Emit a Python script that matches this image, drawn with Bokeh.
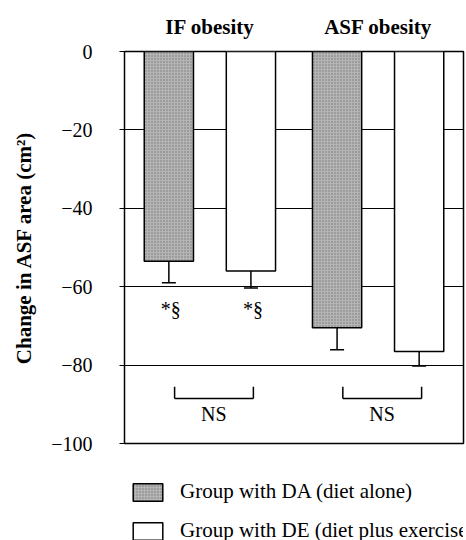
from bokeh.plotting import figure
from bokeh.layouts import column
from bokeh.models import (ColumnDataSource, FactorRange, Range1d, FixedTicker, Whisker, TeeHead,
                          Legend, LegendItem)
from bokeh.core.properties import value
from bokeh.embed import file_html
from bokeh.resources import INLINE

# ---- data ----
groups = ["IF obesity", "ASF obesity"]
treatments = ["DA", "DE"]
da_mean = [-53.5, -70.5]
da_sd = [5.5, 5.6]
de_mean = [-56.0, -76.5]
de_sd = [4.3, 3.7]
sig_group = "IF obesity"
sig_label = "*§"
sig_y = -65.6
ns_label = "NS"
ns_y = -92.5
bracket_top, bracket_bottom = -85.5, -88.5
yticks = [0, -20, -40, -60, -80, -100]
legend_labels = ["Group with DA (diet alone)", "Group with DE (diet plus exercise)"]

SERIF = "Liberation Serif"
DA_STYLE = dict(fill_color="#b5b5b5", line_color="black", line_width=1.5,
                hatch_pattern=".", hatch_color="#4a4a4a", hatch_scale=3, hatch_alpha=0.6)
DE_STYLE = dict(fill_color="white", line_color="black", line_width=1.5)

factors = [(g, t) for g in groups for t in treatments]
x_range = FactorRange(*factors, factor_padding=0.0, group_padding=0.05, range_padding=0.02)

p = figure(width=466, height=455, x_range=x_range, y_range=Range1d(-100, 0),
           x_axis_location="above", output_backend="svg", toolbar_location=None,
           min_border_left=124, min_border_right=3, min_border_top=51, min_border_bottom=12)

p.outline_line_color = "black"
p.outline_line_width = 1.5
p.background_fill_color = "white"
p.border_fill_color = "white"

# grid
p.xgrid.grid_line_color = None
p.ygrid.ticker = FixedTicker(ticks=yticks)
p.ygrid.grid_line_color = "black"
p.ygrid.grid_line_width = 1

# y axis
p.yaxis.ticker = FixedTicker(ticks=yticks)
p.yaxis.major_label_overrides = {t: ("0" if t == 0 else "\u2212" + str(abs(t))) for t in yticks}
p.yaxis.major_label_text_font = SERIF
p.yaxis.major_label_text_font_size = "20px"
p.yaxis.major_label_text_color = "black"
p.yaxis.major_tick_out = 5
p.yaxis.major_tick_in = 0
p.yaxis.minor_tick_line_color = None
p.yaxis.axis_line_color = None
p.yaxis.major_tick_line_color = "black"
p.yaxis.major_label_standoff = 27
p.yaxis.axis_label = "Change in ASF area (cm\u00b2)"
p.yaxis.axis_label_text_font = SERIF
p.yaxis.axis_label_text_font_style = "bold"
p.yaxis.axis_label_text_font_size = "21px"
p.yaxis.axis_label_text_color = "black"
p.yaxis.axis_label_standoff = 12

# x axis (group titles above; treatment sub-labels not drawn)
p.xaxis.axis_line_color = None
p.xaxis.major_tick_line_color = None
p.xaxis.minor_tick_line_color = None
p.xaxis.major_label_text_color = None
p.xaxis.major_label_text_font_size = "9px"
p.xaxis.major_label_standoff = 7
p.xaxis.group_text_font = SERIF
p.xaxis.group_text_font_style = "bold"
p.xaxis.group_text_font_size = "21px"
p.xaxis.group_text_color = "black"
p.xaxis.separator_line_color = None

# bars
da_src = ColumnDataSource(dict(x=[(g, "DA") for g in groups], top=[0, 0], bottom=da_mean,
                               low=[m - s for m, s in zip(da_mean, da_sd)]))
de_src = ColumnDataSource(dict(x=[(g, "DE") for g in groups], top=[0, 0], bottom=de_mean,
                               low=[m - s for m, s in zip(de_mean, de_sd)]))

p.vbar(x="x", top="top", bottom="bottom", width=0.6, source=da_src, **DA_STYLE)
p.vbar(x="x", top="top", bottom="bottom", width=0.6, source=de_src, **DE_STYLE)

for src in (da_src, de_src):
    w = Whisker(base="x", upper="bottom", lower="low", source=src,
                line_color="black", line_width=1.5,
                upper_head=None, lower_head=TeeHead(size=14, line_color="black", line_width=1.5))
    p.add_layout(w)

# significance marks
sig_src = ColumnDataSource(dict(x=[(sig_group, t) for t in treatments], y=[sig_y] * 2,
                                text=[sig_label] * 2))
p.text(x="x", y="y", text="text", source=sig_src, text_font=value(SERIF), text_font_size="20px",
       text_align="center", text_baseline="middle", text_color="black", x_offset=2)

# NS brackets
left = [(g, "DA", 0.07) for g in groups]
right = [(g, "DE", 0.03) for g in groups]
seg_src = ColumnDataSource(dict(
    x0=left + right + left,
    y0=[bracket_top] * 4 + [bracket_bottom] * 2,
    x1=left + right + right,
    y1=[bracket_bottom] * 4 + [bracket_bottom] * 2,
))
p.segment(x0="x0", y0="y0", x1="x1", y1="y1", source=seg_src, line_color="black", line_width=1.5)
ns_src = ColumnDataSource(dict(x=groups, y=[ns_y] * 2, text=[ns_label] * 2))
p.text(x="x", y="y", text="text", source=ns_src, text_font=value(SERIF), text_font_size="20px",
       text_align="center", text_baseline="middle", text_color="black", x_offset=4)

# legend strip below the chart (legend-only renderers with undrawn NaN bars)
lg = figure(width=466, height=85, x_range=x_range, y_range=Range1d(-100, 0),
            x_axis_type=None, y_axis_type=None, output_backend="svg", toolbar_location=None,
            min_border=0)
lg.outline_line_color = None
lg.grid.visible = False
nan = float("nan")
key_da = ColumnDataSource(dict(x=[(groups[0], "DA")], top=[nan], bottom=[nan]))
key_de = ColumnDataSource(dict(x=[(groups[0], "DE")], top=[nan], bottom=[nan]))
l_da = lg.vbar(x="x", top="top", bottom="bottom", width=0.6, source=key_da, **DA_STYLE)
l_de = lg.vbar(x="x", top="top", bottom="bottom", width=0.6, source=key_de, **DE_STYLE)
legend = Legend(items=[LegendItem(label=legend_labels[0], renderers=[l_da]),
                       LegendItem(label=legend_labels[1], renderers=[l_de])],
                location=(5, -3), orientation="vertical",
                glyph_width=37, glyph_height=22, spacing=14, label_standoff=14,
                label_text_font=SERIF, label_text_font_size="21px", label_text_color="black",
                padding=0, margin=0, border_line_color=None, background_fill_alpha=0)
lg.add_layout(legend, "center")

open("out.html", "w").write(file_html(column(p, lg, spacing=0), INLINE))
